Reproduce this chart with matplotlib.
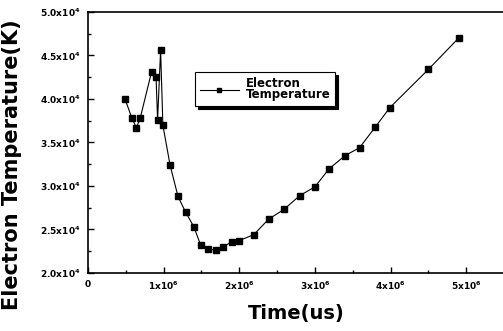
import matplotlib.pyplot as plt
import numpy as np

# time (us) and electron temperature (K)
time_us = [0.49e6, 0.58e6, 0.64e6, 0.69e6, 0.84e6, 0.90e6, 0.92e6, 0.96e6, 0.99e6,
           1.085e6, 1.19e6, 1.29e6, 1.40e6, 1.49e6, 1.59e6, 1.69e6, 1.79e6, 1.90e6,
           1.99e6, 2.19e6, 2.39e6, 2.59e6, 2.80e6, 3.00e6, 3.19e6, 3.40e6, 3.59e6,
           3.80e6, 3.99e6, 4.50e6, 4.90e6]
temp_k = [4.00e4, 3.78e4, 3.67e4, 3.78e4, 4.31e4, 4.25e4, 3.76e4, 4.56e4, 3.70e4,
          3.24e4, 2.88e4, 2.70e4, 2.53e4, 2.32e4, 2.28e4, 2.26e4, 2.30e4, 2.36e4,
          2.37e4, 2.44e4, 2.62e4, 2.73e4, 2.89e4, 2.99e4, 3.20e4, 3.35e4, 3.44e4,
          3.68e4, 3.90e4, 4.34e4, 4.70e4]

xticks = [0, 1e6, 2e6, 3e6, 4e6, 5e6]
xtick_labels = ['0', '1x10$^6$', '2x10$^6$', '3x10$^6$', '4x10$^6$', '5x10$^6$']
yticks = [2.0e4, 2.5e4, 3.0e4, 3.5e4, 4.0e4, 4.5e4, 5.0e4]
ytick_labels = ['2.0x10$^4$', '2.5x10$^4$', '3.0x10$^4$', '3.5x10$^4$',
                '4.0x10$^4$', '4.5x10$^4$', '5.0x10$^4$']

plt.rcParams['font.family'] = 'DejaVu Sans'
plt.rcParams['font.weight'] = 'bold'
plt.rcParams['mathtext.default'] = 'bf'

fig = plt.figure(figsize=(5.03, 3.31), dpi=100)
ax = fig.add_axes([88 / 503, 58 / 331, 416 / 503, 261 / 331])

ax.plot(time_us, temp_k, color='black', lw=0.8, marker='s', ms=5,
        label='Electron\nTemperature')

ax.set_xlim(0, 5.5e6)
ax.set_ylim(2.0e4, 5.0e4)
ax.set_xticks(xticks)
ax.set_xticklabels(xtick_labels)
ax.set_yticks(yticks)
ax.set_yticklabels(ytick_labels)
ax.set_xticks(np.arange(0.5e6, 5.5e6, 1e6), minor=True)
ax.set_yticks(np.arange(2.25e4, 5.0e4, 0.5e4), minor=True)
ax.tick_params(which='major', direction='in', length=4, width=1, labelsize=6.5, pad=5)
ax.tick_params(which='minor', direction='in', length=2, width=1)
for s in ax.spines.values():
    s.set_linewidth(1.2)

ax.set_xlabel('Time(us)', fontsize=14, fontweight='heavy')
ax.set_ylabel('Electron Temperature(K)', fontsize=15, fontweight='heavy')
ax.xaxis.set_label_coords(0.5, -0.12)
ax.yaxis.set_label_coords(-0.158, 0.415)

leg = ax.legend(loc='upper left', bbox_to_anchor=(0.257, 0.77), borderaxespad=0,
                fontsize=8.5, frameon=True, fancybox=False, numpoints=1,
                handlelength=3.3, handletextpad=0.6, markerscale=0.6, borderpad=0.4,
                shadow={'color': 'black', 'alpha': 1})
leg.get_frame().set_edgecolor('black')
leg.get_frame().set_linewidth(0.8)
for t in leg.get_texts():
    t.set_linespacing(0.85)

fig.savefig('out.png', dpi=100)
